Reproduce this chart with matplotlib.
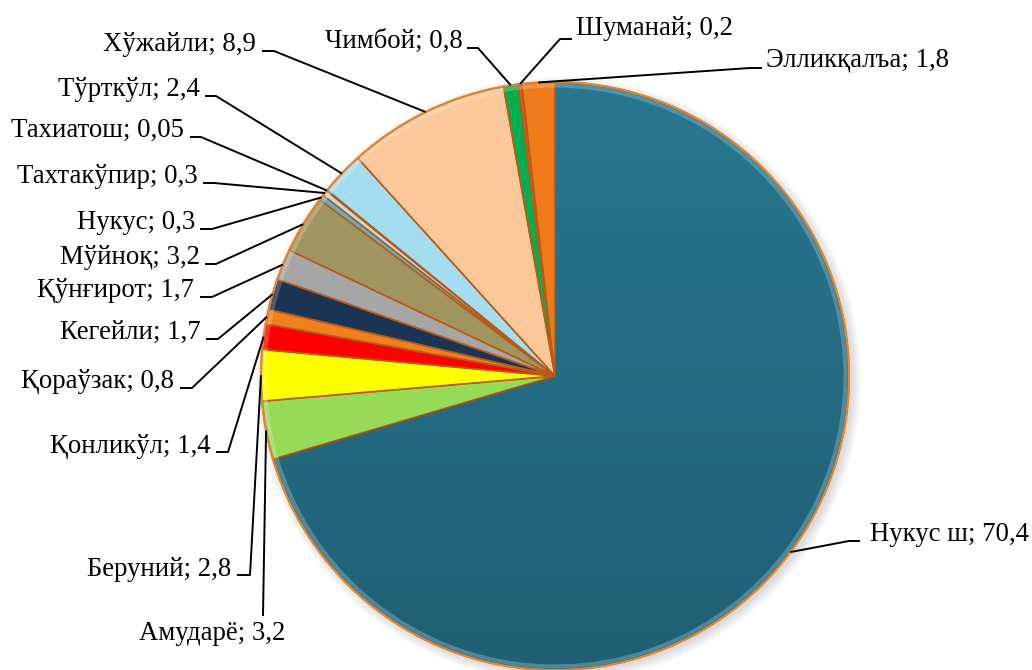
import numpy as np
import matplotlib
matplotlib.use('Agg')
import matplotlib.pyplot as plt
from matplotlib.patches import Wedge, Circle

# shares by district, clockwise from 12 o'clock
districts = ['Нукус ш', 'Амударё', 'Беруний', 'Қонликўл', 'Қораўзак', 'Кегейли',
             'Қўнғирот', 'Мўйноқ', 'Нукус', 'Тахтакўпир', 'Тахиатош', 'Тўрткўл',
             'Хўжайли', 'Чимбой', 'Шуманай', 'Элликқалъа']
shares = [70.4, 3.2, 2.8, 1.4, 0.8, 1.7, 1.7, 3.2, 0.3, 0.3, 0.05, 2.4,
          8.9, 0.8, 0.2, 1.8]
colors = ['#287791', '#96DA58', '#FFFF00', '#FF0000', '#F0801E', '#1C3453',
          '#A6A6A6', '#A0955F', '#5BB3CC', '#B7DEE8', '#4BACC6', '#A3DDEF',
          '#FCC899', '#00B050', '#D0601A', '#EE7A1A']

# label layout in pixels (y measured from top): text anchor, alignment, leader tick
text_pos = [(870, 541, 'left'), (212, 640, 'center'), (231, 576, 'right'),
            (211, 453, 'right'), (174, 388, 'right'), (201, 339, 'right'),
            (194, 297, 'right'), (200, 264, 'right'), (195, 229, 'right'),
            (198, 183, 'right'), (184, 137, 'right'), (200, 96, 'right'),
            (256, 51, 'right'), (463, 48, 'right'), (576, 35, 'left'),
            (766, 67, 'left')]
ticks = [[(860, 541), (849, 541)], [(263, 616)], [(237, 575), (250, 575)],
         [(216, 452), (228, 452)], [(180, 388), (192, 388)], [(206, 339), (218, 339)],
         [(200, 297), (212, 297)], [(205, 264), (216, 264)], [(200, 229), (212, 229)],
         [(203, 183), (214, 183)], [(190, 137), (201, 137)], [(205, 96), (216, 96)],
         [(262, 51), (274, 51)], [(467, 48), (478, 48)], [(572, 39), (560, 39)],
         [(762, 68), (750, 68)]]

W, H = 1032, 670
CX, CY, R = 555, 376, 294

fig = plt.figure(figsize=(W / 100, H / 100), dpi=100)
fig.patch.set_facecolor('white')

ax = fig.add_axes([(CX - R) / W, (H - CY - R) / H, 2 * R / W, 2 * R / H])

wedges, _ = ax.pie(shares, colors=colors, startangle=90, counterclock=False,
                   radius=1.0,
                   wedgeprops=dict(edgecolor='#B85A18', linewidth=1.2))
ax.set_xlim(-1, 1)
ax.set_ylim(-1, 1)
ax.axis('off')

# soft drop shadow
for k in range(6):
    ax.add_patch(Circle((0.012, -0.012), 1.0 + 0.006 * k, color='black',
                        alpha=0.025, lw=0, zorder=0, clip_on=False))

for w in wedges:
    w.set_zorder(2)
    # bevel-like highlight along the rim
    light = tuple(min(1, c + 0.4 * (1 - c)) for c in matplotlib.colors.to_rgb(w.get_facecolor()))
    ax.add_patch(Wedge((0, 0), 0.995, w.theta1, w.theta2, width=0.014,
                       facecolor=light, edgecolor='none', alpha=0.5, zorder=3))

# big slice gets darker towards the bottom, like the lit 3D look of the original
shade = np.linspace(0, 1, 200).reshape(-1, 1)
img = ax.imshow(np.dstack([np.zeros_like(shade)] * 3 + [0.2 * shade]),
                extent=(-1, 1, -1, 1), origin='upper', zorder=2.5, aspect='auto')
img.set_clip_path(wedges[0])
ax.set_xlim(-1, 1)
ax.set_ylim(-1, 1)

ax.add_patch(Circle((0, 0), 1.0, fill=False, edgecolor='#E3862F', lw=1.6, zorder=4,
                    clip_on=False))

# overlay in pixel coordinates for labels and leader lines
ov = fig.add_axes([0, 0, 1, 1])
ov.set_xlim(0, W)
ov.set_ylim(H, 0)
ov.axis('off')
ov.patch.set_alpha(0)

font = ['Liberation Serif', 'DejaVu Serif']
for w, name, val, (tx, ty, ha), tick in zip(wedges, districts, shares, text_pos, ticks):
    mid = np.deg2rad((w.theta1 + w.theta2) / 2)
    px, py = ax.transData.transform((np.cos(mid), np.sin(mid)))
    edge = (px, H - py)
    pts = tick + [edge]
    ov.plot([p[0] for p in pts], [p[1] for p in pts], color='black', lw=1.4,
            solid_capstyle='butt')
    label = f"{name}; {str(val).replace('.', ',')}"
    ov.text(tx, ty, label, ha=ha, va='baseline', fontsize=19.3, family=font,
            color='black')

fig.savefig('out.png', dpi=100)
